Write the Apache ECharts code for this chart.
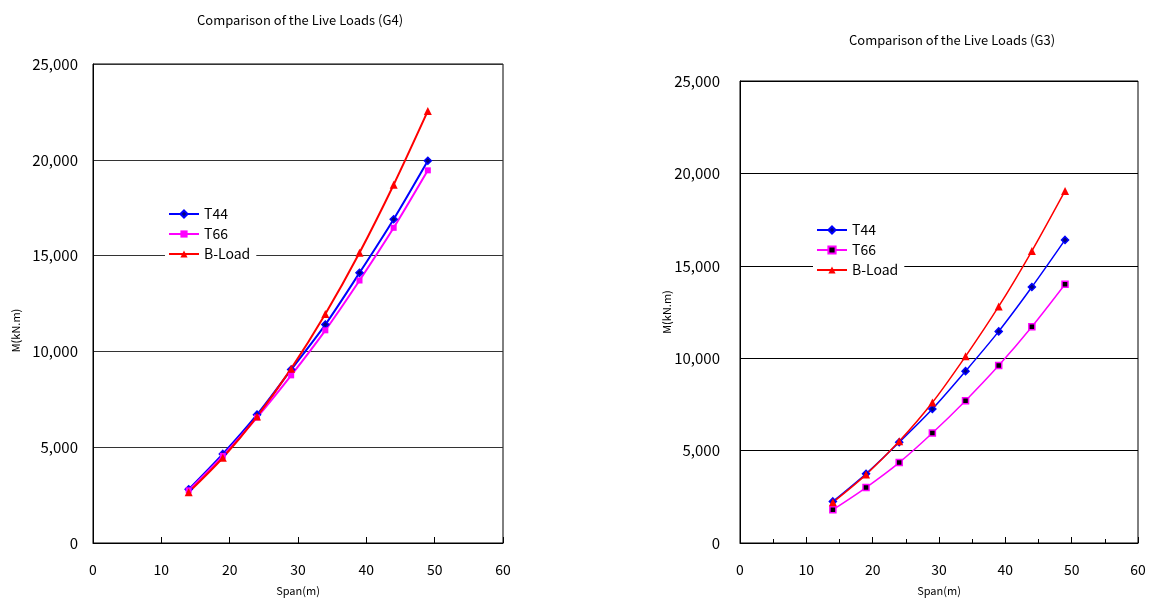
<!DOCTYPE html>
<html>
<head>
<meta charset="utf-8">
<script src="https://cdn.jsdelivr.net/npm/echarts@6/dist/echarts.min.js"></script>
<style>
  html, body { margin: 0; padding: 0; background: #fff; }
  #wrap { position: relative; width: 1154px; height: 603px; }
  .chart { position: absolute; top: 0; width: 577px; height: 603px; }
</style>
</head>
<body>
<div id="wrap">
  <div class="chart" id="chartG4" style="left:0"></div>
  <div class="chart" id="chartG3" style="left:577px"></div>
</div>
<script>
// span (m)
const spans = [14, 19, 24, 29, 34, 39, 44, 49];
const xTicks = [0, 10, 20, 30, 40, 50, 60];
const yTicks = [0, 5000, 10000, 15000, 20000, 25000];
const seriesNames = ["T44", "T66", "B-Load"];

// G4 moments (kN.m)
const g4T44 = [2800, 4650, 6700, 9050, 11400, 14100, 16900, 19950];
const g4T66 = [2750, 4550, 6550, 8750, 11100, 13700, 16450, 19450];
const g4BLoad = [2650, 4450, 6600, 9100, 11950, 15150, 18700, 22550];

// G3 moments (kN.m)
const g3T44 = [2250, 3750, 5450, 7250, 9300, 11450, 13850, 16400];
const g3T66 = [1800, 3000, 4350, 5950, 7700, 9600, 11700, 14000];
const g3BLoad = [2200, 3700, 5500, 7600, 10100, 12800, 15800, 19050];

const FONT = "'Noto Sans CJK JP', 'Noto Sans', sans-serif";

function pairs(vals) {
  return spans.map((s, i) => [s, vals[i]]);
}

function buildOption(cfg) {
  const mk = (name, vals, color, symbol, size, fill) => ({
    name: name,
    type: "line",
    smooth: 0.3,
    data: pairs(vals),
    symbol: symbol,
    symbolSize: size,
    showAllSymbol: true,
    lineStyle: { color: color, width: cfg.lineWidth },
    itemStyle: {
      color: fill,
      borderColor: fill === color ? fill : color,
      borderWidth: fill === color ? 0 : 1.5,
    },
    emphasis: { disabled: true },
    z: 3,
  });
  return {
    animation: false,
    backgroundColor: "#fff",
    textStyle: { fontFamily: FONT },
    title: {
      text: cfg.title,
      left: cfg.titleX,
      top: cfg.titleY,
      textAlign: "center",
      textStyle: { fontSize: 13, fontWeight: "normal", color: "#000", fontFamily: FONT },
    },
    legend: {
      orient: "vertical",
      left: cfg.legendX,
      top: cfg.legendY,
      backgroundColor: "#fff",
      padding: [3, 6, 3, 3],
      itemWidth: 30,
      itemHeight: 9,
      itemGap: 6,
      data: seriesNames,
      textStyle: { fontSize: 14, color: "#000", fontFamily: FONT },
    },
    grid: {
      left: cfg.gridLeft,
      top: cfg.gridTop,
      width: cfg.gridWidth,
      height: cfg.gridHeight,
      show: true,
      borderColor: "#000",
      borderWidth: 1,
      backgroundColor: "#fff",
    },
    xAxis: {
      type: "value",
      min: xTicks[0],
      max: xTicks[xTicks.length - 1],
      interval: 10,
      name: "Span(m)",
      nameLocation: "middle",
      nameGap: 42,
      nameMoveOverlap: false,
      nameTextStyle: { fontSize: 11, color: "#000", fontFamily: FONT },
      axisLine: { show: true, lineStyle: { color: "#000" } },
      axisTick: { show: true, inside: true, length: 6, lineStyle: { color: "#000" } },
      minorTick: { show: cfg.minorX, splitNumber: 2, length: 4, lineStyle: { color: "#000" } },
      splitLine: { show: false },
      axisLabel: { margin: 20, fontSize: 14, color: "#000", fontFamily: FONT },
    },
    yAxis: {
      type: "value",
      min: yTicks[0],
      max: yTicks[yTicks.length - 1],
      interval: 5000,
      name: "M(kN.m)",
      nameLocation: "middle",
      nameGap: cfg.yNameGap,
      nameMoveOverlap: false,
      nameTextStyle: { fontSize: 11, color: "#000", fontFamily: FONT, padding: cfg.yNamePad },
      axisLine: { show: true, lineStyle: { color: "#000" } },
      axisTick: { show: false },
      splitLine: { show: true, lineStyle: { color: cfg.gridColor, width: 1 } },
      axisLabel: {
        margin: cfg.yLabelMargin,
        fontSize: 15,
        color: "#000",
        fontFamily: FONT,
        formatter: (v) => v.toLocaleString("en-US"),
      },
    },
    series: [
      mk("T44", cfg.t44, "#0000ff", "diamond", 7, "#000080"),
      mk("T66", cfg.t66, "#ff00ff", "rect", 6, cfg.t66Fill),
      mk("B-Load", cfg.bLoad, "#ff0000", "triangle", 8, "#ff0000"),
    ],
  };
}

const chartG4 = echarts.init(document.getElementById("chartG4"));
chartG4.setOption(
  buildOption({
    title: "Comparison of the Live Loads (G4)",
    titleX: 295,
    titleY: 9,
    legendX: 165,
    legendY: 204,
    gridLeft: 93,
    gridTop: 64,
    gridWidth: 410,
    gridHeight: 479,
    gridColor: "#333",
    lineWidth: 2,
    minorX: false,
    yLabelMargin: 15,
    yNameGap: 72,
    yNamePad: [0, 54, 0, 0],
    t44: g4T44,
    t66: g4T66,
    bLoad: g4BLoad,
    t66Fill: "#ff00ff",
  })
);

const chartG3 = echarts.init(document.getElementById("chartG3"));
chartG3.setOption(
  buildOption({
    title: "Comparison of the Live Loads (G3)",
    titleX: 370,
    titleY: 29,
    legendX: 236,
    legendY: 220,
    gridLeft: 163,
    gridTop: 81,
    gridWidth: 398,
    gridHeight: 462,
    gridColor: "#000",
    lineWidth: 1.5,
    minorX: true,
    yLabelMargin: 20,
    yNameGap: 68,
    yNamePad: [0, 0, 0, 0],
    t44: g3T44,
    t66: g3T66,
    bLoad: g3BLoad,
    t66Fill: "#000",
  })
);
</script>
</body>
</html>
